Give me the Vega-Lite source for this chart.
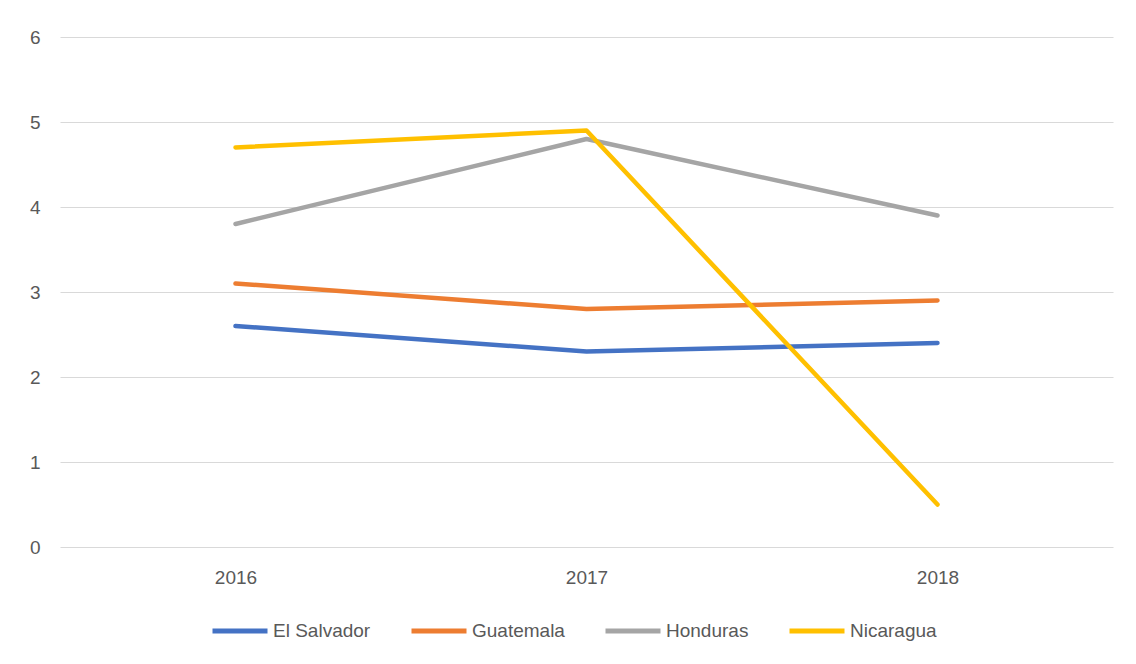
{
  "$schema": "https://vega.github.io/schema/vega-lite/v6.json",
  "autosize": "none",
  "width": 1053,
  "height": 510,
  "padding": {"left": 60, "top": 37, "right": 23, "bottom": 117},
  "background": "white",
  "config": {
    "view": {"stroke": null},
    "font": "Liberation Sans"
  },
  "data": {
    "values": [
      {"year": "2016", "country": "El Salvador", "value": 2.6},
      {"year": "2017", "country": "El Salvador", "value": 2.3},
      {"year": "2018", "country": "El Salvador", "value": 2.4},
      {"year": "2016", "country": "Guatemala", "value": 3.1},
      {"year": "2017", "country": "Guatemala", "value": 2.8},
      {"year": "2018", "country": "Guatemala", "value": 2.9},
      {"year": "2016", "country": "Honduras", "value": 3.8},
      {"year": "2017", "country": "Honduras", "value": 4.8},
      {"year": "2018", "country": "Honduras", "value": 3.9},
      {"year": "2016", "country": "Nicaragua", "value": 4.7},
      {"year": "2017", "country": "Nicaragua", "value": 4.9},
      {"year": "2018", "country": "Nicaragua", "value": 0.5}
    ]
  },
  "mark": {"type": "line", "strokeWidth": 4.5, "strokeCap": "round", "strokeJoin": "round"},
  "encoding": {
    "x": {
      "field": "year",
      "type": "ordinal",
      "scale": {"type": "point", "padding": 0.5},
      "axis": {
        "title": null,
        "labelAngle": 0,
        "labelFontSize": 19,
        "labelColor": "#595959",
        "labelPadding": 21,
        "ticks": false,
        "domain": false,
        "grid": false
      }
    },
    "y": {
      "field": "value",
      "type": "quantitative",
      "scale": {"domain": [0, 6], "nice": false},
      "axis": {
        "title": null,
        "values": [0, 1, 2, 3, 4, 5, 6],
        "labelFontSize": 19,
        "labelColor": "#595959",
        "labelPadding": 20,
        "ticks": false,
        "domain": false,
        "grid": true,
        "gridColor": "#d9d9d9",
        "gridWidth": 1
      }
    },
    "color": {
      "field": "country",
      "type": "nominal",
      "scale": {
        "domain": ["El Salvador", "Guatemala", "Honduras", "Nicaragua"],
        "range": ["#4472C4", "#ED7D31", "#A5A5A5", "#FFC000"]
      },
      "legend": {
        "title": null,
        "orient": "none",
        "direction": "horizontal",
        "legendX": 150,
        "legendY": 564,
        "symbolType": "stroke",
        "symbolSize": 3025,
        "symbolStrokeWidth": 5,
        "labelFontSize": 19,
        "labelColor": "#595959",
        "labelOffset": 3,
        "columnPadding": 30
      }
    }
  }
}
